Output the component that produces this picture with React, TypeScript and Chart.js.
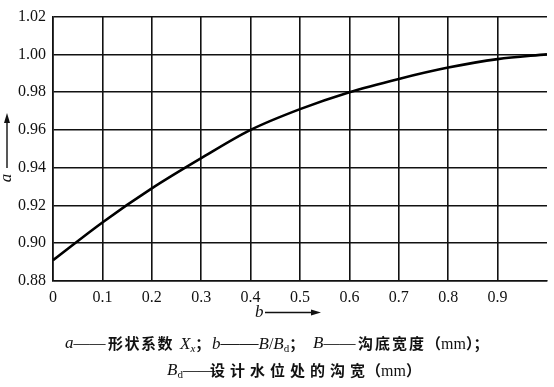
import React, { useEffect, useRef } from "react";
import { Chart, registerables } from "chart.js";

Chart.register(...registerables);

// ---- data ----
const bValues = [0, 0.1, 0.2, 0.3, 0.4, 0.5, 0.6, 0.7, 0.8, 0.9, 1.0];
const aValues = [0.891, 0.911, 0.929, 0.945, 0.96, 0.971, 0.98, 0.987, 0.993, 0.9975, 1.0];
const yMin = 0.88;
const yMax = 1.02;
const yStep = 0.02;
const xMin = 0;
const xMax = 1;
const xStep = 0.1;
const xAxisLabel = "b";
const yAxisLabel = "a";

const serif = '"Liberation Serif", "Times New Roman", serif';
const cjk = '"Noto Sans CJK SC", "Noto Sans CJK JP", sans-serif';
const ink = "#111";

const axisLabels = {
  id: "axisLabels",
  afterDraw(chart: any) {
    const ctx = chart.ctx as CanvasRenderingContext2D;
    ctx.save();
    ctx.fillStyle = ink;
    ctx.strokeStyle = ink;
    ctx.lineWidth = 1.4;
    // x axis label "b ——→"
    ctx.font = `italic 17px ${serif}`;
    ctx.textAlign = "left";
    ctx.textBaseline = "middle";
    ctx.fillText(xAxisLabel, 255, 313);
    ctx.beginPath();
    ctx.moveTo(265, 312.5);
    ctx.lineTo(314, 312.5);
    ctx.stroke();
    ctx.beginPath();
    ctx.moveTo(321, 312.5);
    ctx.lineTo(311, 309.5);
    ctx.lineTo(311, 315.5);
    ctx.closePath();
    ctx.fill();
    // y axis label "a ——→" rotated
    ctx.translate(7, 178);
    ctx.rotate(-Math.PI / 2);
    ctx.textAlign = "center";
    ctx.fillText(yAxisLabel, 0, 0);
    ctx.beginPath();
    ctx.moveTo(10, 0);
    ctx.lineTo(58, 0);
    ctx.stroke();
    ctx.beginPath();
    ctx.moveTo(65, 0);
    ctx.lineTo(55, -3);
    ctx.lineTo(55, 3);
    ctx.closePath();
    ctx.fill();
    ctx.restore();
  },
};

const txt: React.CSSProperties = {
  position: "absolute",
  whiteSpace: "nowrap",
  fontSize: 15,
  lineHeight: "18px",
  color: ink,
};
const lat: React.CSSProperties = { fontFamily: serif, fontSize: 16 };
const it: React.CSSProperties = { fontFamily: serif, fontSize: 17, fontStyle: "italic" };
const zh: React.CSSProperties = { fontFamily: cjk, fontWeight: 700 };
const sub: React.CSSProperties = { fontFamily: serif, fontSize: 11, verticalAlign: -3 };

export default function App() {
  const ref = useRef<HTMLCanvasElement | null>(null);

  useEffect(() => {
    if (!ref.current) return;
    const chart = new Chart(ref.current, {
      type: "line",
      data: {
        datasets: [
          {
            data: bValues.map((b, i) => ({ x: b, y: aValues[i] })),
            borderColor: "#000",
            borderWidth: 2.6,
            pointRadius: 0,
            fill: false,
            cubicInterpolationMode: "monotone",
          },
        ],
      },
      options: {
        animation: false,
        responsive: false,
        layout: { padding: { left: 0, top: 15, right: 6, bottom: 0 } },
        plugins: { legend: { display: false }, tooltip: { enabled: false } },
        scales: {
          x: {
            type: "linear",
            min: xMin,
            max: xMax,
            ticks: {
              stepSize: xStep,
              padding: 7,
              color: ink,
              font: { family: serif, size: 16 },
              maxRotation: 0,
              callback: (v: any) => {
                const n = Number(v);
                if (n > 0.95) return "";
                return n === 0 ? "0" : n.toFixed(1);
              },
            },
            grid: {
              drawTicks: false,
              lineWidth: 1.6,
              color: (c: any) => (c.tick && c.tick.value > 0.95 ? "rgba(0,0,0,0)" : ink),
            },
            border: { display: true, color: ink, width: 1.6 },
            afterFit: (s: any) => {
              s.height = 106;
            },
          },
          y: {
            type: "linear",
            min: yMin,
            max: yMax,
            ticks: {
              stepSize: yStep,
              padding: 7,
              color: ink,
              font: { family: serif, size: 16 },
              callback: (v: any) => Number(v).toFixed(2),
            },
            grid: { drawTicks: false, lineWidth: 1.6, color: ink },
            border: { display: true, color: ink, width: 1.6 },
            afterFit: (s: any) => {
              s.width = 53;
            },
          },
        },
      },
      plugins: [axisLabels],
    });
    return () => chart.destroy();
  }, []);

  return (
    <div style={{ position: "absolute", left: 0, top: 0, width: 554, height: 387, background: "#fff" }}>
      <canvas ref={ref} width={554} height={387} style={{ position: "absolute", left: 0, top: 0 }} />
      {/* caption line 1 */}
      <div style={{ ...txt, left: 65, top: 334 }}>
        <span style={it}>a</span>
        <span style={lat}>——</span>
      </div>
      <div style={{ ...txt, ...zh, left: 108, top: 334, letterSpacing: 1.5 }}>形状系数</div>
      <div style={{ ...txt, left: 180, top: 334 }}>
        <span style={it}>X</span>
        <span style={{ ...sub, fontStyle: "italic" }}>x</span>
        <span style={zh}>；</span>
      </div>
      <div style={{ ...txt, left: 212, top: 334 }}>
        <span style={it}>b</span>
        <span style={{ ...lat, fontSize: 19 }}>——</span>
        <span style={it}>B</span>
        <span style={lat}>/</span>
        <span style={it}>B</span>
        <span style={sub}>d</span>
        <span style={zh}>；</span>
      </div>
      <div style={{ ...txt, left: 313, top: 334 }}>
        <span style={it}>B</span>
        <span style={lat}>——</span>
      </div>
      <div style={{ ...txt, ...zh, left: 358, top: 334, letterSpacing: 2 }}>沟底宽度</div>
      <div style={{ ...txt, left: 426, top: 334 }}>
        <span style={zh}>（</span>
        <span style={lat}>mm</span>
        <span style={zh}>）；</span>
      </div>
      {/* caption line 2 */}
      <div style={{ ...txt, left: 167, top: 361 }}>
        <span style={it}>B</span>
        <span style={sub}>d</span>
        <span style={lat}>——</span>
      </div>
      <div style={{ ...txt, ...zh, left: 210, top: 361, letterSpacing: 5 }}>设计水位处的沟宽</div>
      <div style={{ ...txt, left: 366, top: 361 }}>
        <span style={zh}>（</span>
        <span style={lat}>mm</span>
        <span style={zh}>）</span>
      </div>
    </div>
  );
}
